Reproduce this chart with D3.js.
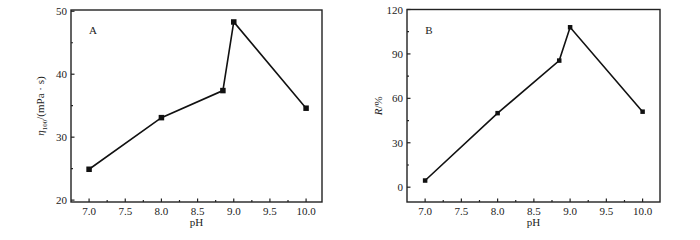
<!DOCTYPE html>
<html>
<head>
<meta charset="utf-8">
<script src="https://cdn.jsdelivr.net/npm/d3@7"></script>
<style>
body { margin: 0; background: #fff; }
text { font-family: "Liberation Serif", "DejaVu Serif", serif; fill: #222; }
</style>
</head>
<body>
<div id="chart"></div>
<script>
// pH values shared by both panels
var pH = [7.0, 8.0, 8.85, 9.0, 10.0];
var viscosity = [24.9, 33.1, 37.4, 48.3, 34.6];   // panel A, mPa·s
var removal = [4.5, 50, 85.5, 108, 51];          // panel B, %
var xTicks = [7.0, 7.5, 8.0, 8.5, 9.0, 9.5, 10.0];
var yTicksA = [20, 30, 40, 50];
var yTicksB = [0, 30, 60, 90, 120];

var svg = d3.select("#chart").append("svg")
	.attr("width", 700)
	.attr("height", 240);

function panel(opt) {
	var x = d3.scaleLinear().domain(opt.xDomain).range([opt.left, opt.right]);
	var y = d3.scaleLinear().domain(opt.yDomain).range([opt.bottom, opt.top]);
	var g = svg.append("g");

	// frame
	g.append("rect")
		.attr("x", opt.left)
		.attr("y", opt.top)
		.attr("width", opt.right - opt.left)
		.attr("height", opt.bottom - opt.top)
		.attr("fill", "none")
		.attr("stroke", "#222")
		.attr("stroke-width", 1.4);

	// x ticks, inward
	var xMinor = d3.range(xTicks[0] - 0.25, xTicks[xTicks.length - 1] + 0.3, 0.25)
		.filter(function(v) { return v > opt.xDomain[0] && v < opt.xDomain[1]; });
	g.selectAll(".xm").data(xMinor).enter().append("line")
		.attr("x1", function(d) { return x(d); })
		.attr("x2", function(d) { return x(d); })
		.attr("y1", opt.bottom)
		.attr("y2", function(d) { return opt.bottom - (Math.abs(d * 2 - Math.round(d * 2)) < 0.01 ? 3.5 : 2); })
		.attr("stroke", "#222")
		.attr("stroke-width", 1.2);
	g.selectAll(".xl").data(xTicks).enter().append("text")
		.attr("x", function(d) { return x(d); })
		.attr("y", opt.bottom + 13)
		.attr("text-anchor", "middle")
		.attr("font-size", 11)
		.text(function(d) { return d.toFixed(1); });

	// y ticks, inward
	var step = opt.yTicks[1] - opt.yTicks[0];
	var yMinor = [];
	opt.yTicks.forEach(function(t, i) {
		yMinor.push({ v: t, major: true });
		if (i < opt.yTicks.length - 1) yMinor.push({ v: t + step / 2, major: false });
	});
	g.selectAll(".ym").data(yMinor).enter().append("line")
		.attr("x1", opt.left)
		.attr("x2", function(d) { return opt.left + (d.major ? 3.5 : 2); })
		.attr("y1", function(d) { return y(d.v); })
		.attr("y2", function(d) { return y(d.v); })
		.attr("stroke", "#222")
		.attr("stroke-width", 1.2);
	g.selectAll(".yl").data(opt.yTicks).enter().append("text")
		.attr("x", opt.left - 4)
		.attr("y", function(d) { return y(d) + 4; })
		.attr("text-anchor", "end")
		.attr("font-size", 11)
		.text(function(d) { return d; });

	// axis titles
	g.append("text")
		.attr("x", (opt.left + opt.right) / 2)
		.attr("y", opt.bottom + 24)
		.attr("text-anchor", "middle")
		.attr("font-size", 11)
		.text("pH");
	opt.yTitle(g.append("text")
		.attr("transform", "translate(" + opt.titleX + "," + ((opt.top + opt.bottom) / 2) + ") rotate(-90)")
		.attr("text-anchor", "middle")
		.attr("font-size", 11));

	g.append("text")
		.attr("x", opt.left + 22)
		.attr("y", 34)
		.attr("text-anchor", "middle")
		.attr("font-size", 11)
		.text(opt.label);

	// data line and markers
	var line = d3.line()
		.x(function(d, i) { return x(pH[i]); })
		.y(function(d) { return y(d); });
	g.append("path")
		.datum(opt.values)
		.attr("d", line)
		.attr("fill", "none")
		.attr("stroke", "#111")
		.attr("stroke-width", 1.6);
	g.selectAll(".pt").data(opt.values).enter().append("rect")
		.attr("x", function(d, i) { return x(pH[i]) - opt.marker / 2; })
		.attr("y", function(d) { return y(d) - opt.marker / 2; })
		.attr("width", opt.marker)
		.attr("height", opt.marker)
		.attr("fill", "#111");
}

panel({
	left: 71, right: 322, top: 10, bottom: 202,
	xDomain: [6.75, 10.22], yDomain: [19.7, 50.2],
	yTicks: yTicksA, values: viscosity, marker: 5.5, label: "A", titleX: 44,
	yTitle: function(t) {
		t.append("tspan").attr("font-style", "italic").text("η");
		t.append("tspan").attr("font-size", 7).attr("dy", 3).text("100");
		t.append("tspan").attr("dy", -3).text("/(mPa · s)");
	}
});

panel({
	left: 407, right: 660, top: 9.5, bottom: 202,
	xDomain: [6.75, 10.24], yDomain: [-10, 120],
	yTicks: yTicksB, values: removal, marker: 4.5, label: "B", titleX: 382,
	yTitle: function(t) {
		t.append("tspan").attr("font-style", "italic").text("R");
		t.append("tspan").text("/%");
	}
});
</script>
</body>
</html>
